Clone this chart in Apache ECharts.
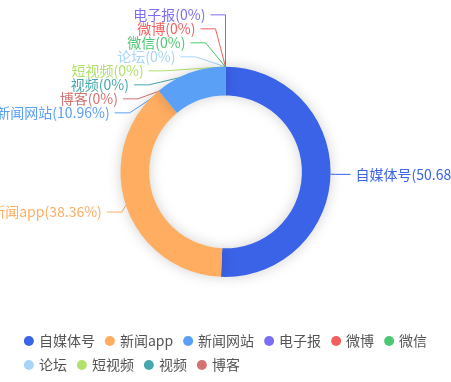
<!DOCTYPE html>
<html><head><meta charset="utf-8">
<script src="https://cdn.jsdelivr.net/npm/echarts@6/dist/echarts.min.js"></script>
<style>html,body{margin:0;padding:0;background:#fff}#c{width:451px;height:382px}</style>
</head><body><div id="c"></div>
<script>
const categories = ['自媒体号','新闻app','新闻网站','电子报','微博','微信','论坛','短视频','视频','博客'];
const values = [50.68, 38.36, 10.96, 0, 0, 0, 0, 0, 0, 0];
const colors = ['#3B63E8','#FFAD60','#5AA0F7','#7C6DF5','#F55E5E','#4CC872','#A8D4FA','#B0E26C','#47A8AC','#D27271'];

const W = 451, H = 382;
const CENTER = ['50%', '45%'];
const RADIUS = ['40%', '55%'];
const LEN = 10, LEN2 = 15, DIST = 5, FONT = 14;

// Classic (v4-style) outside-label layout, computed from the data angles.
function classicLabelLayout() {
  const cx = W * parseFloat(CENTER[0]) / 100, cy = H * parseFloat(CENTER[1]) / 100;
  const r = Math.min(W, H) / 2 * parseFloat(RADIUS[1]) / 100;
  const total = values.reduce((a, b) => a + b, 0);
  let ang = -Math.PI / 2;
  const items = [];
  values.forEach((v, i) => {
    const span = v / total * Math.PI * 2;
    const mid = ang + span / 2; ang += span;
    const dx = Math.cos(mid), dy = Math.sin(mid);
    const s = dx < 1e-9 ? -1 : 1;
    const x1 = cx + dx * r, y1 = cy + dy * r;
    const x2 = x1 + dx * LEN, y2 = y1 + dy * LEN;
    const x3 = x2 + s * LEN2, y3 = y2;
    items.push({ i, x: x3 + s * DIST, y: y3, height: FONT, dir: s,
      pts: [[x1, y1], [x2, y2], [x3, y3]] });
  });
  function adjust(list, dir) {
    list.sort((a, b) => a.y - b.y);
    const top = 0, bottom = H;
    function shiftDown(start, end, delta) {
      for (let j = start; j < end; j++) {
        if (list[j].y + delta > bottom) break;
        list[j].y += delta;
        if (j > start && j + 1 < end && list[j + 1].y > list[j].y + list[j].height) {
          shiftUp(j, delta / 2); return;
        }
      }
      shiftUp(end - 1, delta / 2);
    }
    function shiftUp(end, delta) {
      for (let j = end; j >= 0; j--) {
        if (list[j].y - delta < top) break;
        list[j].y -= delta;
        if (j > 0 && list[j].y > list[j - 1].y + list[j - 1].height) break;
      }
    }
    function changeX(sub, isDown) {
      let last = isDown ? Number.MAX_VALUE : 0;
      sub.forEach(it => {
        const dY = Math.abs(it.y - cy);
        let dX = dY < r + LEN ? Math.sqrt((r + LEN + LEN2) ** 2 - dY * dY) : Math.abs(it.x - cx);
        if (isDown && dX >= last) dX = last - 10;
        if (!isDown && dX <= last) dX = last + 10;
        it.x = cx + dX * dir;
        last = dX;
      });
    }
    let lastY = 0;
    for (let k = 0; k < list.length; k++) {
      const delta = list[k].y - lastY;
      if (delta < 0) shiftDown(k, list.length, -delta);
      lastY = list[k].y + list[k].height;
    }
    if (H - lastY < 0) shiftUp(list.length - 1, lastY - H);
    changeX(list.filter(it => it.y < cy), false);
    changeX(list.filter(it => it.y >= cy), true);
  }
  adjust(items.filter(it => it.dir > 0), 1);
  adjust(items.filter(it => it.dir < 0), -1);
  const out = {};
  items.forEach(it => {
    const p = it.pts;
    const d = p[1][0] - p[2][0];
    p[2][0] = it.dir < 0 ? it.x + DIST : it.x - DIST;
    p[1][0] = p[2][0] + d;
    p[1][1] = p[2][1] = it.y;
    out[it.i] = { x: it.x, y: it.y, align: it.dir < 0 ? 'right' : 'left', verticalAlign: 'middle', labelLinePoints: p };
  });
  return out;
}
const labelPos = classicLabelLayout();

const chart = echarts.init(document.getElementById('c'));
chart.setOption({
  color: colors,
  legend: {
    left: 'center', bottom: 5,
    icon: 'circle', itemWidth: 10, itemHeight: 14, itemGap: 10,
    textStyle: { color: '#555', fontSize: 14, fontFamily: 'Noto Sans CJK SC' },
    data: categories
  },
  series: [{
    type: 'pie',
    center: CENTER,
    radius: RADIUS,
    startAngle: 90,
    clockwise: true,
    itemStyle: { shadowBlur: 14, shadowColor: 'rgba(0,0,0,0.18)' },
    label: {
      formatter: '{b}({d}%)',
      fontSize: FONT,
      fontFamily: 'Noto Sans CJK SC',
      color: 'inherit',
      overflow: 'none'
    },
    labelLine: { length: LEN, length2: LEN2, smooth: false },
    labelLayout: p => labelPos[p.dataIndex],
    data: categories.map((n, i) => ({ name: n, value: values[i] }))
  }]
});
</script></body></html>
